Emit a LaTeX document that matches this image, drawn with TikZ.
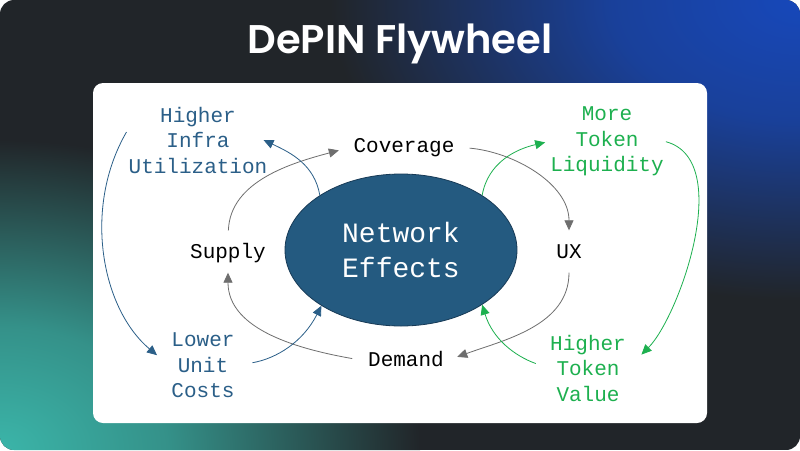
\documentclass[tikz,border=0pt]{standalone}
\usepackage{fontspec}
\setmonofont{Liberation Mono}
\newfontfamily\titlefont{Poppins}[BoldFont={Poppins SemiBold}]
\usetikzlibrary{arrows.meta,shapes.geometric}
\definecolor{bgdark}{HTML}{212529}
\definecolor{glowteal}{HTML}{3BB5A9}
\definecolor{glowblue}{HTML}{1748BA}
\definecolor{netfill}{HTML}{245A80}
\definecolor{netline}{HTML}{173A56}
\definecolor{infrablue}{HTML}{2B5F88}
\definecolor{tokengreen}{HTML}{1DB04F}
\definecolor{cyclegray}{HTML}{6E6E6E}
\pgfdeclareradialshading{tealglow}{\pgfpointorigin}{color(0bp)=(glowteal); color(10bp)=(glowteal!75!bgdark); color(25bp)=(bgdark); color(50bp)=(bgdark)}
\pgfdeclareradialshading{blueglow}{\pgfpointorigin}{color(0bp)=(glowblue); color(10bp)=(glowblue!78!bgdark); color(25bp)=(bgdark); color(50bp)=(bgdark)}

\begin{document}
\begin{tikzpicture}[x=1pt,y=1pt,
  lbl/.style={font=\ttfamily\fontsize{21}{25.5}\selectfont, inner sep=2pt, align=center},
  stage/.style={lbl, text=black, text height=15pt, text depth=4pt},
  infra/.style={lbl, text=infrablue},
  token/.style={lbl, text=tokengreen},
  arr/.style={-{Triangle[length=10pt,width=9pt]}, line width=0.8pt},
  cycarr/.style={arr, color=cyclegray},
  infraarr/.style={arr, color=infrablue},
  tokenarr/.style={arr, color=tokengreen}]
\fill[white] (0,0) rectangle (800,-450);
\begin{scope}
\clip[rounded corners=14pt] (0,0) rectangle (800,-450);
\fill[bgdark] (0,0) rectangle (800,-450);
\shade[shading=tealglow] (0,-450) ellipse (420 and 310);
\shade[shading=blueglow] (800,0) ellipse (470 and 300);
\end{scope}
\node[text=white, font=\titlefont\bfseries\fontsize{40}{48}\selectfont] (title) at (400,-44) {DePIN Flywheel};
\fill[white, rounded corners=10pt] (93,-83) rectangle (707,-423);

\node[ellipse, draw=netline, fill=netfill, line width=0.8pt, minimum width=232pt, minimum height=152pt,
  inner sep=0pt, text=white, align=center, font=\ttfamily\fontsize{28}{34.5}\selectfont] (net) at (401,-250) {Network\\Effects};
\node[stage] (cov) at (404,-147) {Coverage};
\node[stage] (sup) at (228,-253) {Supply};
\node[stage] (ux) at (569,-253) {UX};
\node[stage] (dem) at (406,-361) {Demand};
\node[infra] (util) at (198,-140) {Higher\\Infra\\Utilization};
\node[infra] (low) at (203,-365.5) {Lower\\Unit\\Costs};
\node[token] (liq) at (607,-141.7) {More\\Token\\Liquidity};
\node[token] (val) at (588,-368) {Higher\\Token\\Value};

\draw[cycarr, shorten <=11pt, shorten >=13pt] (sup.north) to[out=88,in=195] (cov.west);
\draw[cycarr, shorten <=13pt, shorten >=11pt] (cov.east) to[out=-5,in=90] (ux.north);
\draw[cycarr, shorten <=8pt, shorten >=12pt] (ux.south) to[out=-90,in=20] (dem.east);
\draw[cycarr, shorten <=14pt, shorten >=8pt] (dem.west) to[out=170,in=-90] (sup.south);

\draw[infraarr] (net.146) to[out=100,in=-25] ([xshift=-6pt]util.east);
\draw[infraarr, looseness=0.95, shorten >=16pt] ([yshift=8pt]util.west) to[out=240,in=140] (low.west);
\draw[infraarr, shorten <=16pt] (low.east) to[out=10,in=243] (net.215);

\draw[tokenarr, shorten >=3pt] (net.34.5) to[out=80,in=193] (liq.west);
\draw[tokenarr, looseness=0.8, shorten >=19pt] (liq.east) to[out=-15,in=45] (val.east);
\draw[tokenarr, shorten <=13pt] (val.west) to[out=160,in=-73] (net.-34.5);
\end{tikzpicture}
\end{document}
